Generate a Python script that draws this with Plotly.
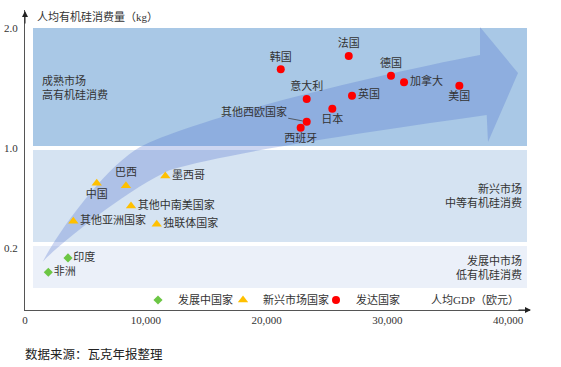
import numpy as np
import plotly.graph_objects as go

# ---------------- data ----------------
dev_names = ["印度", "非洲"]
dev_gdp = [3560, 1930]
dev_kg = [0.168, 0.122]

em_names = ["中国", "巴西", "墨西哥", "其他中南美国家", "其他亚洲国家", "独联体国家"]
em_gdp = [5940, 8360, 11620, 8780, 4000, 10910]
em_kg = [0.718, 0.698, 0.776, 0.536, 0.414, 0.390]

adv_names = ["韩国", "法国", "德国", "加拿大", "美国", "意大利", "英国", "日本", "其他西欧国家", "西班牙"]
adv_gdp = [21180, 26810, 30310, 31390, 35970, 23330, 27080, 25450, 23330, 22830]
adv_kg = [1.656, 1.767, 1.603, 1.548, 1.519, 1.408, 1.436, 1.328, 1.219, 1.169]

x_ticks = [0, 10000, 20000, 30000, 40000]
x_ticktext = ["0", "10,000", "20,000", "30,000", "40,000"]
y_ticks_kg = [2.0, 1.0, 0.2]
y_ticktext = ["2.0", "1.0", "0.2"]

series_names = ["发展中国家", "新兴市场国家", "发达国家"]

# piecewise (schematic) vertical scale of the original chart
KG_ANCHORS = [0, 0.2, 1.0, 2.0]
POS_ANCHORS = [0, 0.62, 1.62, 2.82]


def ypos(v):
    return np.interp(v, KG_ANCHORS, POS_ANCHORS)


# ---------------- layout helpers ----------------
W, H = 561, 367
PLOT_L, PLOT_T, PLOT_R, PLOT_B = 25, 10, 530, 310   # on-screen plot area
ML, MT = PLOT_L, PLOT_T
PW, PH = PLOT_R - PLOT_L, PLOT_B - PLOT_T
MR, MB = W - ML - PW, H - MT - PH


def fx(px):
    return (px - PLOT_L) / PW


def fy(py):
    return (PLOT_B - py) / PH


FONT = "Liberation Serif, Noto Sans CJK SC, sans-serif"
TXT = "#333333"

# label placement (style)
dev_pos = ["middle right", "middle right"]
em_pos = ["bottom center", "top center", "middle right", "middle right", "middle right", "middle right"]
adv_pos = ["top center", "top center", "top center", "middle right", "bottom center",
           "top center", "middle right", "bottom center", "middle left", "bottom center"]
adv_text = [n if n != "其他西欧国家" else "" for n in adv_names]

fig = go.Figure()

fig.add_trace(go.Scatter(
    x=dev_gdp, y=ypos(dev_kg), mode="markers+text", text=dev_names, textposition=dev_pos,
    name=series_names[0], legend="legend", showlegend=True,
    marker=dict(symbol="diamond", size=7, color="#6cc644"),
    textfont=dict(size=11, color=TXT, family=FONT), cliponaxis=False))
fig.add_trace(go.Scatter(
    x=em_gdp, y=ypos(em_kg), mode="markers+text", text=em_names, textposition=em_pos,
    name=series_names[1], legend="legend2", showlegend=True,
    marker=dict(symbol="triangle-up", size=9, color="#ffc000"),
    textfont=dict(size=11, color=TXT, family=FONT), cliponaxis=False))
fig.add_trace(go.Scatter(
    x=adv_gdp, y=ypos(adv_kg), mode="markers+text", text=adv_text, textposition=adv_pos,
    name=series_names[2], legend="legend3", showlegend=True,
    marker=dict(symbol="circle", size=8, color="#ff0000"),
    textfont=dict(size=11, color=TXT, family=FONT), cliponaxis=False))

# background bands and arrow (decoration)
shapes = []
bands = [(28, 146, "#a9c8e6"), (150, 242, "#d5e3f2"), (246, 288, "#ebf0f9")]
for top, bot, col in bands:
    shapes.append(dict(type="rect", xref="paper", yref="paper",
                       x0=fx(33), x1=fx(527), y0=fy(bot), y1=fy(top),
                       fillcolor=col, line=dict(width=0), layer="below"))


def P(px, py):
    return f"{fx(px):.5f},{fy(py):.5f}"


arrow_path = (
    "M " + P(42.7, 261.7)
    + " C " + P(62.7, 223.7) + " " + P(110, 163.5) + " " + P(140, 147)
    + " C " + P(200, 117) + " " + P(380, 74) + " " + P(480, 55)
    + " L " + P(480, 27)
    + " L " + P(518, 73)
    + " L " + P(488, 142)
    + " L " + P(486.7, 115)
    + " C " + P(380, 130) + " " + P(230, 152) + " " + P(170, 170)
    + " C " + P(130, 188) + " " + P(62.7, 240.7) + " " + P(42.7, 261.7)
    + " Z"
)
shapes.append(dict(type="path", xref="paper", yref="paper", path=arrow_path,
                   fillcolor="rgba(70,105,205,0.27)", line=dict(width=0), layer="below"))

annotations = []
# region texts
annotations.append(dict(xref="paper", yref="paper", x=fx(40), y=fy(87), xanchor="left", yanchor="middle",
                        align="left", showarrow=False, text="成熟市场<br>高有机硅消费",
                        font=dict(size=11, color=TXT, family=FONT)))
annotations.append(dict(xref="paper", yref="paper", x=fx(524), y=fy(195), xanchor="right", yanchor="middle",
                        align="right", showarrow=False, text="新兴市场<br>中等有机硅消费",
                        font=dict(size=11, color=TXT, family=FONT)))
annotations.append(dict(xref="paper", yref="paper", x=fx(524), y=fy(267), xanchor="right", yanchor="middle",
                        align="right", showarrow=False, text="发展中市场<br>低有机硅消费",
                        font=dict(size=11, color=TXT, family=FONT)))
# label with leader line
i = adv_names.index("其他西欧国家")
annotations.append(dict(x=adv_gdp[i], y=float(ypos(adv_kg[i])), xref="x", yref="y",
                        text="其他西欧国家", showarrow=True, arrowhead=0, arrowwidth=0.8,
                        arrowcolor="#444", ax=-53, ay=-10, standoff=4,
                        font=dict(size=11, color=TXT, family=FONT)))
# axis titles
annotations.append(dict(xref="paper", yref="paper", x=fx(35), y=fy(17), xanchor="left", yanchor="middle",
                        showarrow=False, text="人均有机硅消费量（kg）",
                        font=dict(size=11, color=TXT, family=FONT)))
annotations.append(dict(xref="paper", yref="paper", x=fx(521), y=fy(300), xanchor="right", yanchor="middle",
                        showarrow=False, text="人均GDP（欧元）",
                        font=dict(size=11, color=TXT, family=FONT)))
# axis arrowheads
annotations.append(dict(xref="paper", yref="paper", x=0, y=fy(11), ax=0, ay=14, text="",
                        showarrow=True, arrowhead=2, arrowsize=1.2, arrowwidth=1, arrowcolor="#222"))
annotations.append(dict(xref="paper", yref="paper", x=fx(531), y=0, ax=-14, ay=0, text="",
                        showarrow=True, arrowhead=2, arrowsize=1.2, arrowwidth=1, arrowcolor="#222"))
# source note
annotations.append(dict(xref="paper", yref="paper", x=fx(23), y=fy(354), xanchor="left", yanchor="middle",
                        showarrow=False, text="数据来源：瓦克年报整理",
                        font=dict(size=12.5, color="#222", family=FONT)))

leg_common = dict(orientation="h", yanchor="middle", xanchor="left", y=fy(300),
                  bgcolor="rgba(0,0,0,0)", font=dict(size=11, color=TXT, family=FONT))

fig.update_layout(
    width=W, height=H,
    margin=dict(l=ML, r=MR, t=MT, b=MB, autoexpand=False),
    paper_bgcolor="white", plot_bgcolor="white",
    font=dict(family=FONT, color=TXT),
    showlegend=True,
    shapes=shapes, annotations=annotations,
    legend=dict(x=fx(138), **leg_common),
    legend2=dict(x=fx(223), **leg_common),
    legend3=dict(x=fx(316), **leg_common),
    xaxis=dict(range=[0, PW / 0.012075], tickvals=x_ticks, ticktext=x_ticktext,
               showgrid=False, zeroline=False, showline=True, linecolor="#555", linewidth=1,
               ticks="", automargin=False,
               tickfont=dict(size=11, color=TXT, family=FONT), fixedrange=True),
    yaxis=dict(range=[0, 3.0], tickvals=list(ypos(y_ticks_kg)), ticktext=y_ticktext,
               showgrid=False, zeroline=False, showline=True, linecolor="#555", linewidth=1,
               ticks="", ticklabelstandoff=4, automargin=False,
               tickfont=dict(size=11, color=TXT, family=FONT), fixedrange=True),
)

fig.write_html("out.html", config={"displayModeBar": False},
               post_script="document.body.style.margin='0';")
